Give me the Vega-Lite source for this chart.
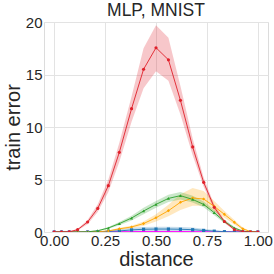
{
  "$schema": "https://vega.github.io/schema/vega-lite/v6.json",
  "width": 224,
  "height": 210,
  "autosize": "none",
  "padding": {"left": 44, "top": 22, "right": 6, "bottom": 42},
  "config": {
    "font": "Liberation Sans",
    "view": {"stroke": "#dcdcdc", "strokeWidth": 1},
    "axis": {"domain": false, "ticks": false, "grid": true, "gridColor": "#e3e3e3", "gridWidth": 1, "labelFont": "Liberation Sans", "labelFontSize": 15, "labelColor": "#262626", "titleFont": "Liberation Sans", "titleFontSize": 20, "titleFontWeight": "normal", "titleColor": "#262626"}
  },
  "title": {"text": "MLP, MNIST", "fontSize": 17.5, "fontWeight": "normal", "font": "Liberation Sans", "color": "#262626", "offset": -4},
  "data": {"values": [
    {"s":"magenta","x":0,"m":0.02,"lo":0,"hi":0.05},{"s":"magenta","x":0.036,"m":0.02,"lo":0,"hi":0.05},{"s":"magenta","x":0.074,"m":0.02,"lo":0,"hi":0.05},{"s":"magenta","x":0.115,"m":0.02,"lo":0,"hi":0.05},{"s":"magenta","x":0.164,"m":0.02,"lo":0,"hi":0.05},{"s":"magenta","x":0.214,"m":0.02,"lo":0,"hi":0.05},{"s":"magenta","x":0.266,"m":0.02,"lo":0,"hi":0.05},{"s":"magenta","x":0.32,"m":0.03,"lo":0,"hi":0.06},{"s":"magenta","x":0.38,"m":0.04,"lo":0,"hi":0.08},{"s":"magenta","x":0.439,"m":0.05,"lo":0.01,"hi":0.09},{"s":"magenta","x":0.5,"m":0.05,"lo":0.01,"hi":0.09},{"s":"magenta","x":0.561,"m":0.05,"lo":0.01,"hi":0.09},{"s":"magenta","x":0.62,"m":0.05,"lo":0.01,"hi":0.09},{"s":"magenta","x":0.68,"m":0.04,"lo":0,"hi":0.08},{"s":"magenta","x":0.734,"m":0.03,"lo":0,"hi":0.06},{"s":"magenta","x":0.786,"m":0.02,"lo":0,"hi":0.05},{"s":"magenta","x":0.836,"m":0.02,"lo":0,"hi":0.05},{"s":"magenta","x":0.885,"m":0.02,"lo":0,"hi":0.05},{"s":"magenta","x":0.926,"m":0.02,"lo":0,"hi":0.05},{"s":"magenta","x":0.964,"m":0.02,"lo":0,"hi":0.05},{"s":"magenta","x":1.0,"m":0.02,"lo":0,"hi":0.05},
    {"s":"blue","x":0,"m":0,"lo":0,"hi":0},{"s":"blue","x":0.036,"m":0,"lo":0,"hi":0},{"s":"blue","x":0.074,"m":0,"lo":0,"hi":0},{"s":"blue","x":0.115,"m":0,"lo":0,"hi":0},{"s":"blue","x":0.164,"m":0,"lo":0,"hi":0},{"s":"blue","x":0.214,"m":0.02,"lo":0,"hi":0.05},{"s":"blue","x":0.266,"m":0.05,"lo":0.01,"hi":0.12},{"s":"blue","x":0.32,"m":0.1,"lo":0.03,"hi":0.25},{"s":"blue","x":0.38,"m":0.2,"lo":0.05,"hi":0.4},{"s":"blue","x":0.439,"m":0.26,"lo":0.08,"hi":0.48},{"s":"blue","x":0.5,"m":0.28,"lo":0.1,"hi":0.5},{"s":"blue","x":0.561,"m":0.28,"lo":0.1,"hi":0.5},{"s":"blue","x":0.62,"m":0.26,"lo":0.1,"hi":0.48},{"s":"blue","x":0.68,"m":0.22,"lo":0.08,"hi":0.42},{"s":"blue","x":0.734,"m":0.15,"lo":0.05,"hi":0.32},{"s":"blue","x":0.786,"m":0.08,"lo":0.02,"hi":0.18},{"s":"blue","x":0.836,"m":0.03,"lo":0,"hi":0.08},{"s":"blue","x":0.885,"m":0.01,"lo":0,"hi":0.03},{"s":"blue","x":0.926,"m":0,"lo":0,"hi":0},{"s":"blue","x":0.964,"m":0,"lo":0,"hi":0},{"s":"blue","x":1.0,"m":0,"lo":0,"hi":0},
    {"s":"orange","x":0,"m":0,"lo":0,"hi":0},{"s":"orange","x":0.036,"m":0,"lo":0,"hi":0},{"s":"orange","x":0.074,"m":0,"lo":0,"hi":0},{"s":"orange","x":0.115,"m":0,"lo":0,"hi":0},{"s":"orange","x":0.164,"m":0,"lo":0,"hi":0},{"s":"orange","x":0.214,"m":0.03,"lo":0.01,"hi":0.05},{"s":"orange","x":0.266,"m":0.1,"lo":0.05,"hi":0.15},{"s":"orange","x":0.32,"m":0.3,"lo":0.2,"hi":0.4},{"s":"orange","x":0.38,"m":0.48,"lo":0.35,"hi":0.6},{"s":"orange","x":0.439,"m":0.8,"lo":0.6,"hi":1.0},{"s":"orange","x":0.5,"m":1.36,"lo":1.0,"hi":1.7},{"s":"orange","x":0.561,"m":2.03,"lo":1.5,"hi":2.6},{"s":"orange","x":0.62,"m":2.83,"lo":2.1,"hi":3.6},{"s":"orange","x":0.68,"m":3.24,"lo":2.5,"hi":4.2},{"s":"orange","x":0.734,"m":3.14,"lo":2.5,"hi":3.9},{"s":"orange","x":0.786,"m":2.44,"lo":1.95,"hi":2.95},{"s":"orange","x":0.836,"m":1.68,"lo":1.35,"hi":2.0},{"s":"orange","x":0.885,"m":0.92,"lo":0.7,"hi":1.15},{"s":"orange","x":0.926,"m":0.3,"lo":0.2,"hi":0.42},{"s":"orange","x":0.964,"m":0.05,"lo":0.02,"hi":0.08},{"s":"orange","x":1.0,"m":0,"lo":0,"hi":0},
    {"s":"green","x":0,"m":0,"lo":0,"hi":0},{"s":"green","x":0.036,"m":0,"lo":0,"hi":0},{"s":"green","x":0.074,"m":0,"lo":0,"hi":0},{"s":"green","x":0.115,"m":0,"lo":0,"hi":0},{"s":"green","x":0.164,"m":0.02,"lo":0,"hi":0.04},{"s":"green","x":0.214,"m":0.12,"lo":0.07,"hi":0.17},{"s":"green","x":0.266,"m":0.38,"lo":0.3,"hi":0.48},{"s":"green","x":0.32,"m":0.8,"lo":0.65,"hi":0.95},{"s":"green","x":0.38,"m":1.33,"lo":1.1,"hi":1.55},{"s":"green","x":0.439,"m":2.0,"lo":1.7,"hi":2.3},{"s":"green","x":0.5,"m":2.63,"lo":2.3,"hi":2.95},{"s":"green","x":0.561,"m":3.2,"lo":2.85,"hi":3.55},{"s":"green","x":0.62,"m":3.46,"lo":3.1,"hi":3.8},{"s":"green","x":0.68,"m":3.1,"lo":2.8,"hi":3.45},{"s":"green","x":0.734,"m":2.63,"lo":2.35,"hi":2.9},{"s":"green","x":0.786,"m":1.84,"lo":1.6,"hi":2.1},{"s":"green","x":0.836,"m":1.0,"lo":0.85,"hi":1.2},{"s":"green","x":0.885,"m":0.38,"lo":0.3,"hi":0.5},{"s":"green","x":0.926,"m":0.08,"lo":0.04,"hi":0.12},{"s":"green","x":0.964,"m":0,"lo":0,"hi":0},{"s":"green","x":1.0,"m":0,"lo":0,"hi":0},
    {"s":"red","x":0,"m":0,"lo":0,"hi":0},{"s":"red","x":0.036,"m":0,"lo":0,"hi":0},{"s":"red","x":0.074,"m":0.02,"lo":0,"hi":0.05},{"s":"red","x":0.115,"m":0.22,"lo":0.15,"hi":0.3},{"s":"red","x":0.164,"m":0.95,"lo":0.75,"hi":1.15},{"s":"red","x":0.214,"m":2.25,"lo":1.9,"hi":2.65},{"s":"red","x":0.266,"m":4.41,"lo":3.8,"hi":5.0},{"s":"red","x":0.32,"m":7.59,"lo":6.7,"hi":8.5},{"s":"red","x":0.38,"m":11.75,"lo":10.5,"hi":12.9},{"s":"red","x":0.439,"m":15.5,"lo":13.7,"hi":17.5},{"s":"red","x":0.5,"m":17.55,"lo":15.3,"hi":19.7},{"s":"red","x":0.561,"m":16.4,"lo":14.4,"hi":18.5},{"s":"red","x":0.62,"m":12.54,"lo":11.2,"hi":13.9},{"s":"red","x":0.68,"m":8.1,"lo":7.3,"hi":8.9},{"s":"red","x":0.734,"m":4.73,"lo":4.3,"hi":5.2},{"s":"red","x":0.786,"m":2.35,"lo":2.1,"hi":2.6},{"s":"red","x":0.836,"m":1.0,"lo":0.85,"hi":1.15},{"s":"red","x":0.885,"m":0.22,"lo":0.14,"hi":0.32},{"s":"red","x":0.926,"m":0.03,"lo":0,"hi":0.06},{"s":"red","x":0.964,"m":0,"lo":0,"hi":0},{"s":"red","x":1.0,"m":0,"lo":0,"hi":0}
  ]},
  "encoding": {
    "x": {"field": "x", "type": "quantitative", "title": "distance", "scale": {"domain": [-0.05, 1.05], "nice": false, "zero": false}, "axis": {"values": [0, 0.25, 0.5, 0.75, 1], "format": ".2f", "labelPadding": 1, "titlePadding": 1, "labelOverlap": false}},
    "color": {"field": "s", "type": "nominal", "legend": null, "sort": ["magenta", "blue", "orange", "green", "red"], "scale": {"domain": ["magenta", "blue", "orange", "green", "red"], "range": ["#ff00ff", "#1f77b4", "#ffa500", "#2ca02c", "#e0202a"]}}
  },
  "layer": [
    {"mark": {"type": "area", "opacity": 0.25, "clip": true}, "encoding": {"y": {"field": "lo", "type": "quantitative", "title": "train error", "scale": {"domain": [0, 20], "nice": false}, "axis": {"values": [0, 5, 10, 15, 20], "labelPadding": 2, "titlePadding": 2}}, "y2": {"field": "hi"}}},
    {"mark": {"type": "line", "strokeWidth": 0.9, "clip": true}, "encoding": {"y": {"field": "m", "type": "quantitative"}}},
    {"mark": {"type": "point", "filled": true, "size": 10, "opacity": 1, "clip": true}, "encoding": {"y": {"field": "m", "type": "quantitative"}, "shape": {"field": "s", "type": "nominal", "legend": null, "scale": {"domain": ["magenta", "blue", "orange", "green", "red"], "range": ["circle", "square", "diamond", "triangle-up", "circle"]}}}}
  ]
}
